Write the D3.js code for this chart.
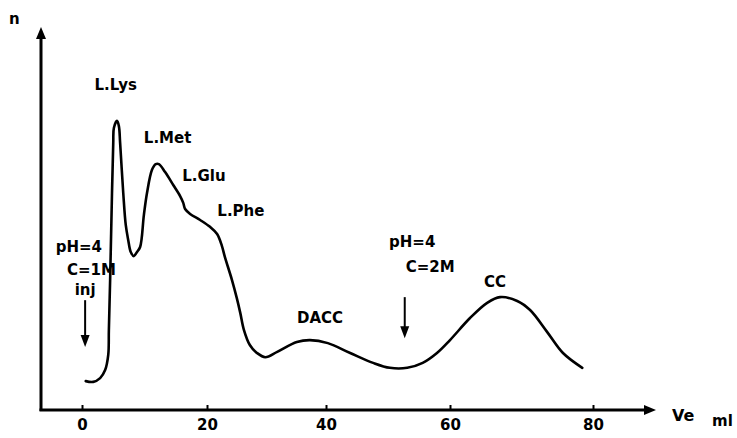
<!DOCTYPE html>
<html><head><meta charset="utf-8">
<script src="https://cdn.jsdelivr.net/npm/d3@7"></script>
<style>html,body{margin:0;padding:0;background:#fff;} svg{display:block;}</style>
</head><body>
<svg id="chart" width="737" height="438"></svg>
<script>
// ---- data ----
const xTicks = [0, 20, 40, 60, 80];
const veValues = [0.6, 1.8, 2.9, 3.7, 4.2, 4.3, 4.5, 4.8, 5.0, 5.1, 5.6, 5.9, 6.1, 6.6, 7.0, 7.4, 7.8, 8.3, 8.8, 9.3, 9.9, 10.4, 11.2, 11.8, 12.3, 13.3, 14.6, 15.7, 16.2, 16.5, 17.3, 18.9, 20.5, 21.7, 22.5, 23.0, 24.2, 25.0, 25.6, 26.2, 27.2, 28.4, 29.8, 31.8, 35.1, 37.3, 40.3, 43.9, 47.6, 50.3, 53.1, 55.6, 57.9, 60.0, 62.8, 65.2, 67.0, 69.4, 71.2, 73.6, 75.8, 78.5];
const nValues  = [7.6, 7.4, 8.4, 10.5, 14.5, 21.1, 34.2, 57.1, 70.3, 74.2, 76.1, 74.7, 70.3, 57.1, 48.7, 44.7, 41.6, 40.5, 41.6, 42.9, 51.3, 57.1, 63.2, 64.7, 64.7, 62.6, 59.2, 56.3, 54.5, 52.9, 51.6, 50.0, 48.2, 46.3, 43.2, 40.3, 34.2, 29.5, 25.5, 21.1, 17.1, 15.0, 13.9, 15.3, 17.9, 18.4, 17.6, 15.0, 12.4, 11.1, 11.1, 12.4, 15.0, 18.4, 24.2, 28.2, 29.7, 28.7, 26.3, 20.5, 15.0, 11.1];
const peakNames = ["L.Lys", "L.Met", "L.Glu", "L.Phe", "DACC", "CC"];
const peakLabelVe = [5.4, 13.7, 19.5, 25.7, 39.0, 66.3];
const peakLabelN  = [84.2, 70.3, 60.3, 51.1, 22.9, 32.4];
const noteLines = ["pH=4", "C=1M", "inj", "pH=4", "C=2M"];
const noteVe = [-0.5, 1.5, 0.5, 53.9, 56.8];
const noteN  = [41.6, 35.5, 30.3, 42.9, 36.3];
const arrowVe = [0.5, 52.7];
const arrowTopN = [28.9, 29.7];
const arrowTipN = [16.6, 18.9];

// ---- layout ----
const svg = d3.select("#chart");
const x = d3.scaleLinear().domain(xTicks).range([82, 207, 326, 450, 593]);
const y = d3.scaleLinear().domain([0, 100]).range([410, 30]);
const axisY = 410, axisX = 41;
const font = "'DejaVu Sans', sans-serif";

// y axis
svg.append("line").attr("x1", axisX).attr("x2", axisX).attr("y1", axisY + 1).attr("y2", 36)
  .attr("stroke", "#000").attr("stroke-width", 3);
svg.append("path").attr("d", `M${axisX},27 L${axisX - 5},39 L${axisX + 5},39 Z`).attr("fill", "#000");
svg.append("text").attr("x", 9).attr("y", 24).text("n")
  .attr("font-family", font).attr("font-weight", "bold").attr("font-size", 15);

// x axis
svg.append("line").attr("x1", axisX - 1.5).attr("x2", 647).attr("y1", axisY).attr("y2", axisY)
  .attr("stroke", "#000").attr("stroke-width", 3);
svg.append("path").attr("d", `M656,${axisY} L644,${axisY - 5} L644,${axisY + 5} Z`).attr("fill", "#000");
const xa = svg.append("g").attr("transform", `translate(0,${axisY})`)
  .call(d3.axisBottom(x).tickValues(xTicks).tickFormat(d3.format("d")).tickSizeInner(-5).tickSizeOuter(0).tickPadding(9));
xa.select(".domain").remove();
xa.selectAll(".tick line").attr("stroke", "#000").attr("stroke-width", 2);
xa.selectAll(".tick text").attr("font-family", font).attr("font-weight", "bold").attr("font-size", 15).attr("fill", "#000");
svg.append("text").attr("x", 672).attr("y", 421).text("Ve")
  .attr("font-family", font).attr("font-weight", "bold").attr("font-size", 16);
svg.append("text").attr("x", 712).attr("y", 426).text("ml")
  .attr("font-family", font).attr("font-weight", "bold").attr("font-size", 15);

// curve
const pts = veValues.map((v, i) => [v, nValues[i]]);
svg.append("path").datum(pts)
  .attr("d", d3.line().x(d => x(d[0])).y(d => y(d[1])).curve(d3.curveCatmullRom.alpha(0.5)))
  .attr("fill", "none").attr("stroke", "#000").attr("stroke-width", 2.6)
  .attr("stroke-linejoin", "round").attr("stroke-linecap", "round");

// peak labels
svg.append("g").selectAll("text").data(peakNames).join("text")
  .attr("x", (d, i) => x(peakLabelVe[i])).attr("y", (d, i) => y(peakLabelN[i]))
  .attr("text-anchor", "middle").attr("font-family", font).attr("font-weight", "bold").attr("font-size", 15)
  .text(d => d);

// notes
svg.append("g").selectAll("text").data(noteLines).join("text")
  .attr("x", (d, i) => x(noteVe[i])).attr("y", (d, i) => y(noteN[i]))
  .attr("text-anchor", "middle").attr("font-family", font).attr("font-weight", "bold").attr("font-size", 15)
  .text(d => d);

// arrows
arrowVe.forEach((v, i) => {
  const ax = x(v), y0 = y(arrowTopN[i]), y1 = y(arrowTipN[i]);
  svg.append("line").attr("x1", ax).attr("x2", ax).attr("y1", y0).attr("y2", y1 - 8)
    .attr("stroke", "#000").attr("stroke-width", 2);
  svg.append("path").attr("d", `M${ax},${y1} L${ax - 4.5},${y1 - 12} L${ax + 4.5},${y1 - 12} Z`).attr("fill", "#000");
});
</script>
</body></html>
